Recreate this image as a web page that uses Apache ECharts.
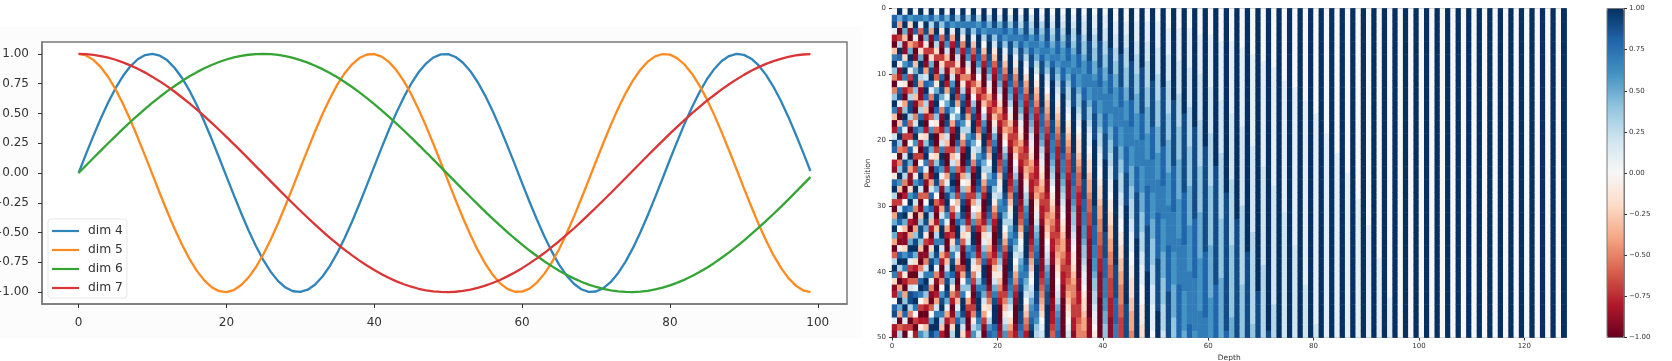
<!DOCTYPE html>
<html>
<head>
<meta charset="utf-8">
<style>html,body{margin:0;padding:0;background:#fff}#c{width:1672px;height:361px;filter:blur(0.5px)}</style>
<script src="https://cdn.jsdelivr.net/npm/echarts@6/dist/echarts.min.js"></script>
</head>
<body>
<div id="c"></div>
<script>
const positions = [0,1,2,3,4,5,6,7,8,9,10,11,12,13,14,15,16,17,18,19,20,21,22,23,24,25,26,27,28,29,30,31,32,33,34,35,36,37,38,39,40,41,42,43,44,45,46,47,48,49,50,51,52,53,54,55,56,57,58,59,60,61,62,63,64,65,66,67,68,69,70,71,72,73,74,75,76,77,78,79,80,81,82,83,84,85,86,87,88,89,90,91,92,93,94,95,96,97,98,99];
const dim4 = [0,.158,.312,.458,.592,.712,.814,.896,.955,.99,1,.985,.946,.882,.798,.692,.569,.433,.285,.13,-.028,-.186,-.338,-.483,-.615,-.732,-.83,-.908,-.962,-.993,-.999,-.98,-.936,-.869,-.78,-.671,-.546,-.407,-.258,-.102,.056,.213,.365,.507,.637,.751,.846,.919,.97,.996,.998,.974,.926,.855,.762,.65,.522,.381,.23,.074,-.085,-.241,-.391,-.531,-.658,-.769,-.86,-.93,-.976,-.998,-.995,-.967,-.915,-.839,-.744,-.629,-.498,-.355,-.203,-.046,.113,.268,.417,.555,.679,.787,.874,.94,.982,1,.992,.96,.903,.824,.724,.606,.473,.328,.175,.017];
const dim5 = [1,.987,.95,.889,.806,.702,.581,.445,.298,.144,-.014,-.172,-.325,-.47,-.603,-.722,-.822,-.902,-.959,-.992,-1,-.983,-.941,-.876,-.789,-.682,-.558,-.42,-.271,-.116,.042,.199,.351,.495,.626,.742,.838,.913,.966,.995,.998,.977,.931,.862,.771,.661,.534,.394,.244,.088,-.07,-.227,-.378,-.519,-.648,-.76,-.853,-.925,-.973,-.997,-.996,-.971,-.92,-.847,-.753,-.64,-.51,-.368,-.216,-.06,.099,.254,.404,.543,.669,.778,.867,.935,.979,.999,.994,.963,.909,.832,.734,.618,.486,.341,.189,.032,-.127,-.281,-.43,-.567,-.69,-.795,-.881,-.944,-.985,-1];
const dim6 = [0,.063,.126,.188,.25,.31,.37,.428,.484,.538,.59,.64,.687,.731,.773,.812,.847,.879,.907,.932,.953,.97,.983,.993,.998,1,.998,.991,.981,.967,.948,.927,.901,.872,.839,.804,.764,.722,.677,.629,.579,.526,.472,.415,.357,.297,.236,.174,.112,.049,-.014,-.077,-.14,-.202,-.263,-.324,-.383,-.44,-.496,-.55,-.601,-.651,-.697,-.741,-.782,-.82,-.854,-.885,-.913,-.937,-.957,-.973,-.986,-.994,-.999,-1,-.996,-.989,-.978,-.963,-.944,-.921,-.895,-.865,-.832,-.795,-.755,-.712,-.667,-.618,-.567,-.514,-.459,-.402,-.344,-.284,-.223,-.161,-.098,-.035];
const dim7 = [1,.998,.992,.982,.968,.951,.929,.904,.875,.843,.807,.769,.727,.682,.634,.584,.532,.478,.421,.363,.304,.243,.182,.119,.056,-.007,-.07,-.133,-.195,-.256,-.317,-.376,-.434,-.49,-.544,-.596,-.645,-.692,-.736,-.777,-.815,-.85,-.882,-.91,-.934,-.955,-.972,-.985,-.994,-.999,-1,-.997,-.99,-.979,-.965,-.946,-.924,-.898,-.868,-.835,-.799,-.759,-.717,-.672,-.623,-.573,-.52,-.466,-.408,-.35,-.29,-.229,-.168,-.105,-.042,.021,.084,.147,.209,.27,.33,.389,.446,.502,.555,.607,.655,.702,.745,.786,.824,.858,.889,.916,.939,.959,.975,.987,.995,.999];
const lineXTicks = [0,20,40,60,80,100];
const lineYTicks = [-1,-.75,-.5,-.25,0,.25,.5,.75,1];
const heatXTicks = [0,20,40,60,80,100,120];
const heatYTicks = [0,10,20,30,40,50];
const barTicks = [-1,-.75,-.5,-.25,0,.25,.5,.75,1];
const rdBu = ['#67001f','#b2182b','#d6604d','#f4a582','#fddbc7','#f7f7f7','#d1e5f0','#92c5de','#4393c3','#2166ac','#053061'];

/* One string per heat-map column, top row first. Each character is a level:
   0-9 then a-k stand for -1.0 ... +1.0 in steps of 0.1. A short string repeats its last level. */
const heatColumns = [
"aijb2 07hke 505ek h702c jia21 9ikd3 06fkf 604dk h812a ijb21",
"kf603 dki91 2aijb 207hk e505e kg703 cjia2 19ikd 306gk f604d",
"aikf7 118gk h9206 ekib3 04cjj d502a ikf71 18gkh 9206e kib30",
"kg810 6fkib 304dj jd403 aikf6 118gk h9206 fkib3 04cjj d503a",
"ahkib 4017f jje71 05cik g9303 9gkic 5016e jkf82 04bik ha302",
"khb40 28fkj d6115 dikg9 203ah kic40 17ejj e7105 cikha 3029g",
"agkjf 93016 cikid 72028 ejkhb 5104a gkjf9 3015c hkje7 2027e",
"kid61 038fj khb51 04agk jf930 16cik id720 28ejk hb510 4agkj",
"afjki d8301 49fjk ie940 038ei kjfa4 1027d hkjgb 51026 chkkh",
"kie94 1038d ikjfa 51027 chkjg b5102 6chkk hc620 15agj khd72",
"afikj gc731 026bf ikjgc 73002 6bfjk jgb62 0037c gjkjf b6200",
"kjgb6 20037 cgjkj fb620 037cg jkifa 52013 8dhjk ie952 0148d",
"aehkk jgc84 10136 afikk ifb74 10137 bfikk ifb73 10137 bfikk",
"kjhd9 52002 59dhj kjgd8 52002 6aehj kjgc8 41003 6aehk kjfc8",
"aehjk kigc9 52101 369dg ikkjg d9631 01259 cgikk jhea6 31002",
"kjheb 74200 147ae hjkki fc852 00136 adgjk kigc9 53101 359dg",
"adgik kjigd a7420 01247 adgik kjifc 96420 01258 behjk kjhfc",
"kkigd a7420 00247 adgik kjifd 96420 01258 begik kjhfc 96310",
"adfhj kkjig eb964 21001 357ad fhjkk jigeb 86420 00135 8adgi",
"kkjhe c9742 10012 479cf hjkkk ihec9 64210 01247 9cfhj kkkih",
"acfhi jkkji hfdb8 64210 00134 79bdg hjkkk jigec 97532 00012",
"kkjig eb975 31000 12468 adfhi jkkji hfda8 64210 00135 79ceg",
"acegh jjkkk jigfd b9753 21000 12357 9bdfg ijkkk jihge ca864",
"kkjih fdb97 54210 00123 468ac eghjj kkkji geca8 65321 00012",
"acdfh ijjkk kjihg fdb98 64321 00001 23468 abdfg hijkk kjjih",
"kkjji gfdba 86532 10000 12346 79bde ghijk kkkji hfeca 87542",
"acdeg hijjk kkkji hgfec b9865 32210 00011 23467 9acdf ghijk",
"kkkji hgfdc a9765 32110 00012 23568 9bcef ghijk kkkjj ihged",
"abdef ghijj kkkkk jiihg fdcb9 87643 22100 00011 23456 78abc",
"kkkjj ihgfe cba87 65432 11000 01123 35678 abcdf ghijj kkkkk",
"abcde fghij jkkkk kkjji hhgfe dca98 76543 22110 00001 12234",
"kkkjj iihgf edcb9 87654 32211 00000 11223 45678 9abcd fghhi",
"abcde fgghi ijjkk kkkkj jjihh gfedc ba987 66543 22110 00000",
"kkkkj jiihg feddc ba987 65433 21110 00000 11223 34567 89abc",
"abcdd efggh iijjj kkkkk kkjjj iihhg feedc ba998 76554 33221",
"kkkkj jjiih ggfee dcba9 88765 44322 11100 00000 01122 33455",
"abccd eefgg hhiij jjkkk kkkkk kjjji ihhgg feedc bba98 87665",
"kkkkk jjjii hhggf eedcb ba988 76654 43322 11100 00000 00111",
"abbcd deeff ghhhi ijjjj kkkkk kkkkk jjjii ihhgg feedd cbba9",
"kkkkk jjjji iihhg gffed dcbba a9887 66554 43322 11110 00000",
"abbccddeeffgghhhiiijjjjkkkkkkkkkkkjjjjiiihhhggffee",
"kkkkkkjjjjiiihhhggffeeddccbba998877665544333222111",
"aabbccddeeffggghhhiiijjjjjkkkkkkkkkkkkkjjjjjiiiihh",
"kkkkkkkjjjjjiiihhhgggffeedddccbbaa9988776655544333",
"aabbccdddeeeffggghhhhiiiijjjjjkkkkkkkkkkkkkkkjjjjj",
"kkkkkkkkjjjjjjiiiihhhgggfffeedddccbbbaa99888776665",
"aabbbccdddeeefffgggghhhhiiiijjjjjjjkkkkkkkkkkkkkkk",
"kkkkkkkkkjjjjjjjiiiihhhhggggfffeeedddccbbbaaa99988",
"aabbbcccddddeeeffffgggghhhhiiiiiijjjjjjjkkkkkkkkkk",
"kkkkkkkkkkkjjjjjjjiiiiihhhhhggggfffeeeedddcccbbbba",
"aabbbbccccddddeeeeffffgggghhhhhiiiiiiijjjjjjjjkkkk",
"kkkkkkkkkkkkjjjjjjjjjiiiiiihhhhhgggggffffeeeeddddc",
"aaabbbbccccdddddeeeefffffggggghhhhhhiiiiiiijjjjjjj",
"kkkkkkkkkkkkkkjjjjjjjjjjiiiiiiihhhhhhgggggfffffeee",
"aaabbbbbcccccdddddeeeeeffffffgggggghhhhhhhiiiiiiii",
"kkkkkkkkkkkkkkkkjjjjjjjjjjjjiiiiiiiihhhhhhhggggggf",
"aaabbbbbbccccccddddddeeeeeeffffffggggggghhhhhhhhii",
"kkkkkkkkkkkkkkkkkkjjjjjjjjjjjjjjiiiiiiiiihhhhhhhhg",
"aaaabbbbbbcccccccdddddddeeeeeeefffffffgggggggghhhh",
"kkkkkkkkkkkkkkkkkkkkkjjjjjjjjjjjjjjjjiiiiiiiiiihhh",
"aaaabbbbbbbbcccccccddddddddeeeeeeeeeffffffffgggggg",
"kkkkkkkkkkkkkkkkkkkkkkkkjjjjjjjjjjjjjjjjjjiiiiiiii",
"aaaaabbbbbbbbbccccccccddddddddddeeeeeeeeefffffffff",
"kkkkkkkkkkkkkkkkkkkkkkkkkkkkjjjjjjjjjjjjjjjjjjjjji",
"aaaaabbbbbbbbbbbccccccccccddddddddddeeeeeeeeeeefff",
"kkkkkkkkkkkkkkkkkkkkkkkkkkkkkkkkjjjjjjjjjjjjjjjjjj",
"aaaaaabbbbbbbbbbbbccccccccccccddddddddddddeeeeeeee",
"kkkkkkkkkkkkkkkkkkkkkkkkkkkkkkkkkkkkkjjjjjjjjjjjjj",
"aaaaaaabbbbbbbbbbbbbbcccccccccccccddddddddddddddee",
"kkkkk kkkkk kkkkk kkkkk kkkkk kkkkk kkkkk kkkkk kkk jjjjjjj",
"aaaaa aaa bbbbb bbbbb bbbbb b ccccc ccccc ccccc d",
"kkkkk kkkkk kkkkk kkkkk kkkkk kkkkk kkkkk kkkkk kkkkk kkkk j",
"aaaaa aaaa bbbbb bbbbb bbbbb bbb ccccc ccccc ccccc ccc d",
"k",
"aaaaa aaaaa a bbbbb bbbbb bbbbb bbbbb c",
"k",
"aaaaa aaaaa aa bbbbb bbbbb bbbbb bbbbb bbbb c",
"k",
"aaaaa aaaaa aaaa bbbbb bbbbb bbbbb bbbbb bbbbb bbb c",
"k",
"aaaaa aaaaa aaaaa a bbbbb bbbbb bbbbb bbbbb bbbbb bbbbb bb c",
"k",
"aaaaa aaaaa aaaaa aaaa b",
"k",
"aaaaa aaaaa aaaaa aaaaa aa b",
"k",
"aaaaa aaaaa aaaaa aaaaa aaaaa b",
"k",
"aaaaa aaaaa aaaaa aaaaa aaaaa aaaa b",
"k",
"aaaaa aaaaa aaaaa aaaaa aaaaa aaaaa aaa b",
"k",
"aaaaa aaaaa aaaaa aaaaa aaaaa aaaaa aaaaa aaa b",
"k",
"aaaaa aaaaa aaaaa aaaaa aaaaa aaaaa aaaaa aaaaa aaaa b",
"k",
"a","k","a","k","a","k","a","k","a","k","a","k","a","k","a","k",
"a","k","a","k","a","k","a","k","a","k","a","k","a","k","a","k"
];
const LEVELS = '0123456789abcdefghijk';
const rowCount = 50;
const heatData = [];
heatColumns.forEach(function (text, col) {
  const s = text.replace(/ /g, '');
  for (let row = 0; row < rowCount; row++) {
    const ch = s[Math.min(row, s.length - 1)];
    heatData.push([col, row, LEVELS.indexOf(ch) / 10 - 1]);
  }
});
const colLabels = heatColumns.map(function (_, i) { return String(i); });
const rowLabels = Array.from({ length: rowCount }, function (_, i) { return String(i); });

const lineNames = ['dim 4', 'dim 5', 'dim 6', 'dim 7'];
const lineValues = [dim4, dim5, dim6, dim7];
const lineColors = ['#2f84ba', '#ff8a1f', '#34a534', '#da3637'];

const F = 'DejaVu Sans';
const TXT = '#333';
const EDGE = '#7a7a7a';
const minus = function (v) { return v.toFixed(2).replace('-', '\u2212'); };

const chart = echarts.init(document.getElementById('c'), null, { renderer: 'canvas' });
chart.setOption({
  animation: false,
  backgroundColor: '#fff',
  textStyle: { fontFamily: F },
  graphic: [
    { type: 'rect', z: -1, silent: true, shape: { x: 0, y: 27, width: 862, height: 311 }, style: { fill: '#fcfcfc' } },
    { type: 'rect', z: 100, silent: true, shape: { x: 1607, y: 8.5, width: 17, height: 329 }, style: { fill: 'none', stroke: EDGE, lineWidth: 1 } }
  ],
  grid: [
    { left: 42, top: 42, width: 805, height: 262, show: true, backgroundColor: '#fff', borderColor: EDGE, borderWidth: 1.5, outerBoundsMode: 'none' },
    { left: 892, top: 8.5, width: 674.5, height: 329, show: false, outerBoundsMode: 'none' },
    { left: 1607, top: 8.5, width: 17, height: 329, show: false, outerBoundsMode: 'none' }
  ],
  legend: {
    data: lineNames, orient: 'vertical', left: 48, top: 219, padding: [5, 4, 3, 4],
    icon: 'rect', itemWidth: 27, itemHeight: 2.2, itemGap: 5,
    backgroundColor: 'rgba(255,255,255,0.85)', borderColor: '#e6e6e6', borderWidth: 1, borderRadius: 3,
    textStyle: { fontFamily: F, fontSize: 12.3, color: TXT, lineHeight: 14, padding: [0, 0, 0, 4] }
  },
  visualMap: {
    type: 'continuous', seriesIndex: 4, dimension: 2, min: -1, max: 1,
    calculable: false, hoverLink: false, text: null, padding: 0,
    left: 1607, top: 8.5, itemWidth: 17, itemHeight: 329, showLabel: false,
    inRange: { color: rdBu }
  },
  xAxis: [
    { type: 'value', gridIndex: 0, position: 'bottom', min: -4.95, max: 103.95, splitLine: { show: false },
      axisLine: { onZero: false, lineStyle: { color: EDGE, width: 1.5 } },
      axisTick: { length: 4, lineStyle: { color: '#333' }, customValues: lineXTicks },
      axisLabel: { customValues: lineXTicks, fontSize: 12, color: TXT, margin: 13, fontFamily: F } },
    { type: 'category', gridIndex: 1, position: 'top', data: colLabels, axisTick: { show: false }, axisLabel: { show: false },
      axisLine: { show: true, onZero: false, lineStyle: { color: EDGE, width: 1 } }, splitLine: { show: false } },
    { type: 'value', gridIndex: 1, position: 'bottom', min: 0, max: 128, splitLine: { show: false },
      name: 'Depth', nameLocation: 'middle', nameGap: 16, nameTextStyle: { fontSize: 7.5, color: TXT, fontFamily: F },
      axisLine: { onZero: false, lineStyle: { color: EDGE, width: 1 } },
      axisTick: { length: 3, lineStyle: { color: '#333' }, customValues: heatXTicks },
      axisLabel: { customValues: heatXTicks, fontSize: 7, color: TXT, margin: 5, fontFamily: F } },
    { type: 'value', gridIndex: 2, min: 0, max: 1, show: false }
  ],
  yAxis: [
    { type: 'value', gridIndex: 0, position: 'left', min: -1.1, max: 1.1, splitLine: { show: false },
      axisLine: { show: true, onZero: false, lineStyle: { color: EDGE, width: 1.5 } },
      axisTick: { show: true, length: 4, lineStyle: { color: '#333' }, customValues: lineYTicks },
      axisLabel: { customValues: lineYTicks, fontSize: 12, color: TXT, margin: 13, fontFamily: F, formatter: minus } },
    { type: 'category', gridIndex: 1, position: 'right', inverse: true, data: rowLabels, axisTick: { show: false }, axisLabel: { show: false },
      axisLine: { show: true, onZero: false, lineStyle: { color: EDGE, width: 1 } }, splitLine: { show: false } },
    { type: 'value', gridIndex: 1, position: 'left', inverse: true, min: 0, max: 50, splitLine: { show: false },
      name: 'Position', nameLocation: 'middle', nameGap: 20, nameRotate: 90, nameTextStyle: { fontSize: 7.5, color: TXT, fontFamily: F },
      axisLine: { show: true, onZero: false, lineStyle: { color: EDGE, width: 1 } },
      axisTick: { show: true, length: 3, lineStyle: { color: '#333' }, customValues: heatYTicks },
      axisLabel: { customValues: heatYTicks, fontSize: 7, color: TXT, margin: 6, fontFamily: F } },
    { type: 'value', gridIndex: 2, position: 'right', min: -1, max: 1, splitLine: { show: false },
      axisLine: { show: true, onZero: false, lineStyle: { color: EDGE, width: 1 } },
      axisTick: { show: true, length: 3, lineStyle: { color: '#333' }, customValues: barTicks },
      axisLabel: { customValues: barTicks, fontSize: 7, color: TXT, margin: 5, fontFamily: F, formatter: minus } }
  ],
  series: lineNames.map(function (name, i) {
    return {
      name: name, type: 'line', xAxisIndex: 0, yAxisIndex: 0, smooth: false, symbol: 'none',
      color: lineColors[i], lineStyle: { width: 2.3, color: lineColors[i], join: 'round' },
      data: positions.map(function (x, k) { return [x, lineValues[i][k]]; })
    };
  }).concat([{
    type: 'heatmap', xAxisIndex: 1, yAxisIndex: 1, data: heatData, progressive: 0,
    itemStyle: { borderWidth: 0 }, emphasis: { disabled: true }
  }])
});
</script>
</body>
</html>
